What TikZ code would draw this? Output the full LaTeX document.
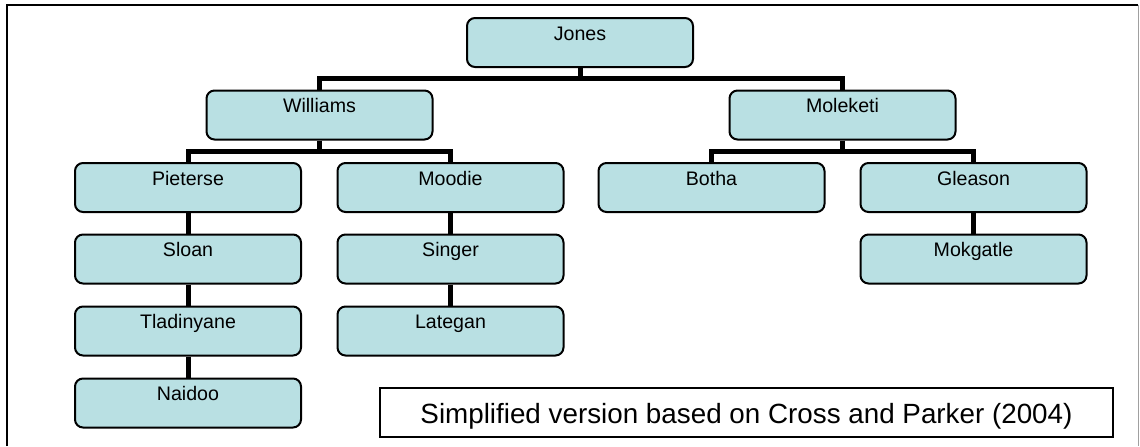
\documentclass[tikz,border=0pt]{standalone}
\usepackage{fontspec}
\setmainfont{Liberation Sans}
\usetikzlibrary{calc}
\definecolor{boxcyan}{HTML}{B9E0E3}
\definecolor{edgegray}{HTML}{A0A0A0}
\tikzset{
  personbox/.style={draw=black,line width=1pt,fill=boxcyan,rounded corners=4pt,
    minimum width=113pt,inner sep=0pt,text height=11pt,text depth=13.5pt,
    font=\fontsize{9.8}{11}\selectfont},
  orgline/.style={line width=2.5pt,draw=black},
  notebox/.style={draw=black,line width=0.7pt,minimum width=366.5pt,inner sep=0pt,
    text height=17.5pt,text depth=7pt,font=\fontsize{13.9}{16}\selectfont}
}

\begin{document}
\begin{tikzpicture}[x=0.5pt,y=-0.5pt]
\path[use as bounding box] (0,0) rectangle (1140,446);
% frame
\draw[line width=1pt] (7,446) -- (7,5) -- (1138,5);
\draw[edgegray,line width=0.5pt] (1138.5,5) -- (1138.5,446);
% people
\node[personbox] (jones) at (580,42.5) {Jones};
\node[personbox] (williams) at (319.5,115) {Williams};
\node[personbox] (moleketi) at (842.5,115) {Moleketi};
\node[personbox] (pieterse) at (188,187.5) {Pieterse};
\node[personbox] (moodie) at (450.5,187.5) {Moodie};
\node[personbox] (botha) at (711.5,187.5) {Botha};
\node[personbox] (gleason) at (973.5,187.5) {Gleason};
\node[personbox] (sloan) at (188,259) {Sloan};
\node[personbox] (singer) at (450.5,259) {Singer};
\node[personbox] (mokgatle) at (973.5,259) {Mokgatle};
\node[personbox] (tladinyane) at (188,331) {Tladinyane};
\node[personbox] (lategan) at (450.5,331) {Lategan};
\node[personbox] (naidoo) at (188,403) {Naidoo};
% links
\draw[orgline] (jones.south) |- ($(jones.south)!0.5!(williams.north)$) -| (williams.north);
\draw[orgline] (jones.south) |- ($(jones.south)!0.5!(moleketi.north)$) -| (moleketi.north);
\draw[orgline] (williams.south) |- ($(williams.south)!0.5!(pieterse.north)$) -| (pieterse.north);
\draw[orgline] (williams.south) |- ($(williams.south)!0.5!(moodie.north)$) -| (moodie.north);
\draw[orgline] (moleketi.south) |- ($(moleketi.south)!0.5!(botha.north)$) -| (botha.north);
\draw[orgline] (moleketi.south) |- ($(moleketi.south)!0.5!(gleason.north)$) -| (gleason.north);
\draw[orgline] (pieterse) -- (sloan);
\draw[orgline] (sloan) -- (tladinyane);
\draw[orgline] (tladinyane) -- (naidoo);
\draw[orgline] (moodie) -- (singer);
\draw[orgline] (singer) -- (lategan);
\draw[orgline] (gleason) -- (mokgatle);
% source note
\node[notebox] (source) at (746.5,412.5) {Simplified version based on Cross and Parker (2004)};
\end{tikzpicture}
\end{document}
